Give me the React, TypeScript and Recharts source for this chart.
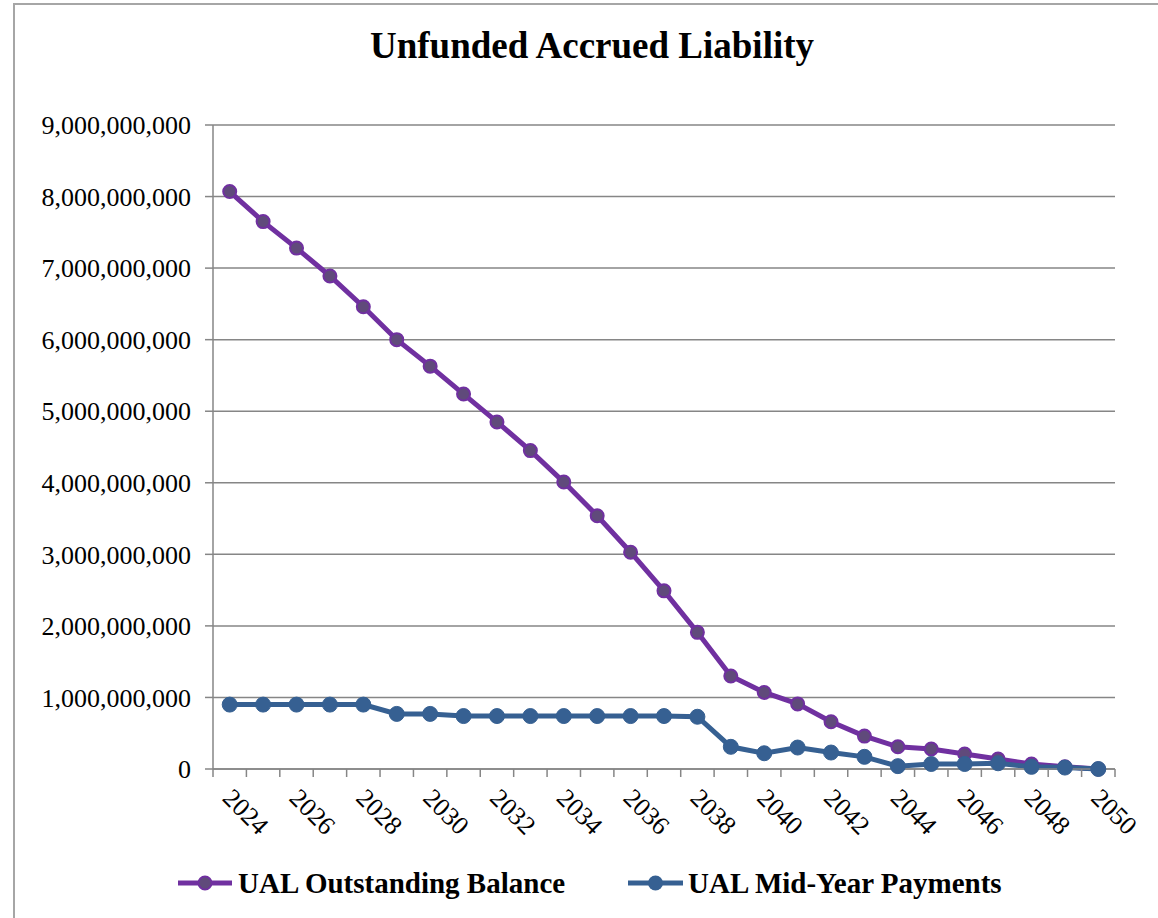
import React from 'react';
import { LineChart, Line, XAxis, YAxis, CartesianGrid } from 'recharts';

// values, in billions of dollars
const years = [
  2024, 2025, 2026, 2027, 2028, 2029, 2030, 2031, 2032, 2033, 2034, 2035, 2036, 2037,
  2038, 2039, 2040, 2041, 2042, 2043, 2044, 2045, 2046, 2047, 2048, 2049, 2050,
];
const outstandingBalance = [
  8.07, 7.65, 7.28, 6.89, 6.46, 6.0, 5.63, 5.24, 4.85, 4.45, 4.01, 3.54, 3.03, 2.49,
  1.91, 1.3, 1.07, 0.91, 0.66, 0.46, 0.31, 0.28, 0.21, 0.14, 0.07, 0.03, 0.0,
];
const midYearPayments = [
  0.9, 0.9, 0.9, 0.9, 0.9, 0.77, 0.77, 0.74, 0.74, 0.74, 0.74, 0.74, 0.74, 0.74,
  0.73, 0.31, 0.22, 0.3, 0.23, 0.17, 0.04, 0.07, 0.07, 0.08, 0.03, 0.02, 0.0,
];
const yTicks = [0, 1e9, 2e9, 3e9, 4e9, 5e9, 6e9, 7e9, 8e9, 9e9];

const data = years.map((year, i) => ({
  year,
  balance: outstandingBalance[i] * 1e9,
  payment: midYearPayments[i] * 1e9,
}));

// tick marks sit on the category boundaries, labels on every other year
const xTicks: number[] = [years[0] - 0.5];
years.forEach(y => {
  xTicks.push(y);
  xTicks.push(y + 0.5);
});

const FONT = '"Liberation Serif", "Times New Roman", serif';
const GRAY = '#868686';
const PURPLE = '#7030A0';
const PURPLE_DOT = '#604A7B';
const BLUE = '#366092';

const XTick = (props: any) => {
  const { x, y, payload } = props;
  const v = payload.value;
  if (!Number.isInteger(v)) {
    return <line x1={x} y1={y} x2={x} y2={y + 8} stroke={GRAY} strokeWidth={1.5} />;
  }
  if (v % 2 !== 0) return null;
  const ax = x + 4;
  const ay = y + 18;
  return (
    <text
      x={ax}
      y={ay}
      dy="0.68em"
      transform={`rotate(45, ${ax}, ${ay})`}
      textAnchor="start"
      fontSize={26}
      fontFamily={FONT}
      fill="#000"
    >
      {v}
    </text>
  );
};

export default function App() {
  return (
    <div
      style={{
        position: 'absolute',
        left: 0,
        top: 0,
        width: 1158,
        height: 918,
        overflow: 'hidden',
        background: '#fff',
      }}
    >
      <div
        style={{
          position: 'absolute',
          left: 13,
          top: 3,
          width: 1200,
          height: 1000,
          border: '2px solid #A6A6A6',
        }}
      />
      <div style={{ position: 'absolute', left: 0, top: 0 }}>
        <LineChart
          width={1158}
          height={918}
          data={data}
          margin={{ top: 125, right: 43, bottom: 69, left: 13 }}
        >
          <CartesianGrid vertical={false} stroke={GRAY} strokeWidth={1.5} />
          <XAxis
            dataKey="year"
            type="number"
            domain={[years[0] - 0.5, years[years.length - 1] + 0.5]}
            ticks={xTicks}
            interval={0}
            height={80}
            tickSize={0}
            tickMargin={0}
            tickLine={false}
            axisLine={{ stroke: GRAY, strokeWidth: 1.5 }}
            tick={<XTick />}
          />
          <YAxis
            width={200}
            domain={[0, 9e9]}
            ticks={yTicks}
            interval={0}
            tickSize={8}
            tickMargin={14}
            tickLine={{ stroke: GRAY, strokeWidth: 1.5 }}
            axisLine={{ stroke: GRAY, strokeWidth: 1.5 }}
            tick={{ fontSize: 26, fontFamily: FONT, fill: '#000' }}
            tickFormatter={(v: number) => v.toLocaleString('en-US')}
          />
          <Line
            type="linear"
            dataKey="balance"
            stroke={PURPLE}
            strokeWidth={5}
            dot={{ r: 6.5, fill: PURPLE_DOT, stroke: PURPLE, strokeWidth: 2 }}
            isAnimationActive={false}
          />
          <Line
            type="linear"
            dataKey="payment"
            stroke={BLUE}
            strokeWidth={5}
            dot={{ r: 7.5, fill: BLUE, stroke: BLUE, strokeWidth: 1 }}
            isAnimationActive={false}
          />
        </LineChart>
      </div>
      <svg
        width={1158}
        height={918}
        style={{ position: 'absolute', left: 0, top: 0, pointerEvents: 'none' }}
      >
        <text
          x={592}
          y={58}
          textAnchor="middle"
          fontSize={37}
          fontWeight="bold"
          fontFamily={FONT}
          fill="#000"
        >
          Unfunded Accrued Liability
        </text>
        <line x1={178} y1={883} x2={232} y2={883} stroke={PURPLE} strokeWidth={5} />
        <circle cx={205} cy={883} r={6.5} fill={PURPLE_DOT} stroke={PURPLE} strokeWidth={2} />
        <text x={238} y={893} fontSize={29} fontWeight="bold" fontFamily={FONT} fill="#000">
          UAL Outstanding Balance
        </text>
        <line x1={628} y1={883} x2={683} y2={883} stroke={BLUE} strokeWidth={5} />
        <circle cx={655.5} cy={883} r={7.5} fill={BLUE} />
        <text x={688} y={893} fontSize={29} fontWeight="bold" fontFamily={FONT} fill="#000">
          UAL Mid-Year Payments
        </text>
      </svg>
    </div>
  );
}
